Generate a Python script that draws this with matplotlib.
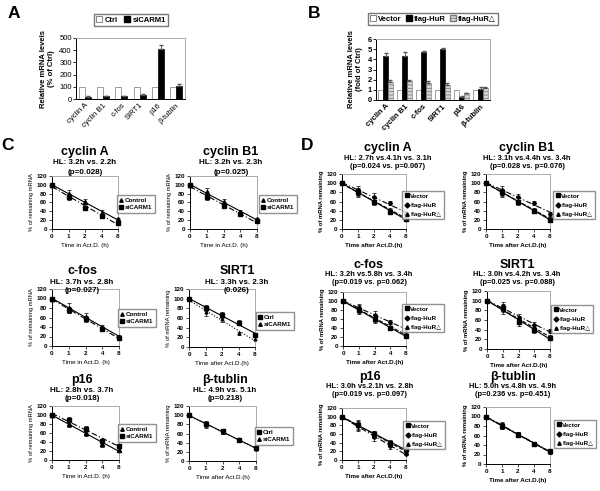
import numpy as np
import matplotlib
matplotlib.use("Agg")
import matplotlib.pyplot as plt
from matplotlib.lines import Line2D
from matplotlib.patches import Patch

plt.rcParams['font.family'] = ['Liberation Sans', 'DejaVu Sans']
plt.rcParams['hatch.color'] = '#555555'
plt.rcParams['hatch.linewidth'] = 0.6

W, H = 600, 491

# ---------------- data ----------------
bar_genes = ['cyclin A', 'cyclin B1', 'c-fos', 'SIRT1', 'p16', 'β-tublin']

# panel A
a_ctrl = [100, 100, 100, 100, 100, 100]
a_si = [18, 25, 25, 35, 410, 110]
a_si_err = [3, 3, 3, 3, 35, 10]

# panel B
b_vector = [1, 1, 1, 1, 1, 1]
b_hur = [4.3, 4.35, 4.7, 5.0, 0.3, 1.1]
b_hur_err = [0.3, 0.35, 0.15, 0.15, 0.05, 0.15]
b_hurd = [1.8, 1.85, 1.7, 1.5, 0.65, 1.15]
b_hurd_err = [0.2, 0.15, 0.15, 0.15, 0.05, 0.1]

time_labels = ['0', '1', '2', '4', '8']

# panel C
c_hl = ['HL: 3.2h vs. 2.2h', 'HL: 3.2h vs. 2.3h', 'HL: 3.7h vs. 2.8h',
        'HL: 3.3h vs. 2.3h', 'HL: 2.8h vs. 3.7h', 'HL: 4.9h vs. 5.1h']
c_p = ['(p=0.028)', '(p=0.025)', '(p=0.027)', '(0.026)', '(p=0.018)', '(p=0.218)']
c_ctrl = [[100, 80, 62, 37, 22], [100, 83, 60, 38, 22], [100, 80, 62, 40, 20],
          [100, 80, 67, 50, 25], [100, 80, 60, 35, 22], [100, 80, 65, 45, 28]]
c_ctrl_err = [[0, 9, 6, 5, 4], [0, 9, 7, 5, 4], [0, 10, 8, 4, 3],
              [0, 6, 6, 5, 3], [0, 6, 6, 6, 3], [0, 7, 5, 4, 3]]
c_si = [[100, 73, 47, 30, 14], [100, 72, 52, 33, 17], [100, 76, 57, 35, 17],
        [100, 72, 57, 28, 17], [100, 90, 70, 42, 32], [100, 80, 63, 47, 27]]
c_si_err = [[0, 7, 5, 4, 3], [0, 7, 5, 4, 3], [0, 7, 6, 4, 3],
            [0, 8, 5, 4, 3], [0, 6, 5, 5, 3], [0, 6, 5, 4, 3]]

# panel D
d_hl = ['HL: 2.7h vs.4.1h vs. 3.1h', 'HL: 3.1h vs.4.4h vs. 3.4h',
        'HL: 3.2h vs.5.8h vs. 3.4h', 'HL: 3.0h vs.4.2h vs. 3.4h',
        'HL: 3.0h vs.2.1h vs. 2.8h', 'HL: 5.0h vs.4.8h vs. 4.9h']
d_p = ['(p=0.024 vs. p=0.067)', '(p=0.028 vs. p=0.076)', '(p=0.019 vs. p=0.062)',
       '(p=0.025 vs. p=0.088)', '(p=0.019 vs. p=0.097)', '(p=0.236 vs. p=0.451)']
d_vector = [[100, 80, 60, 38, 22], [100, 80, 60, 40, 20], [100, 80, 60, 40, 22],
            [100, 85, 55, 40, 22], [100, 80, 60, 40, 25], [100, 80, 62, 42, 27]]
d_hur = [[100, 85, 70, 57, 33], [100, 85, 70, 57, 33], [100, 85, 70, 53, 37],
         [100, 88, 65, 50, 37], [100, 78, 52, 32, 15], [100, 82, 63, 43, 27]]
d_hurd = [[100, 78, 62, 40, 25], [100, 78, 62, 42, 22], [100, 82, 62, 43, 25],
          [100, 82, 60, 45, 25], [100, 82, 58, 37, 22], [100, 80, 62, 42, 26]]
d_err = [[0, 9, 8, 5, 4], [0, 8, 7, 4, 4], [0, 9, 8, 5, 4],
         [0, 9, 8, 6, 4], [0, 10, 8, 6, 4], [0, 7, 5, 4, 3]]


def px_axes(fig, l, t, r, b):
    return fig.add_axes([l / W, 1 - b / H, (r - l) / W, (b - t) / H])


def style_frame(ax):
    for s in ['top', 'right']:
        ax.spines[s].set_color('#aaaaaa')
    for s in ['left', 'bottom']:
        ax.spines[s].set_color('black')
    for s in ax.spines.values():
        s.set_linewidth(0.7)


fig = plt.figure(figsize=(W / 100, H / 100), dpi=100)

# panel letters
for letter, x, y in [('A', 14, 13), ('B', 314, 13), ('C', 8, 146), ('D', 307, 146)]:
    fig.text(x / W, 1 - y / H, letter, fontsize=12.5, fontweight='bold',
             ha='center', va='center')

# ---------------- panel A ----------------
ax = px_axes(fig, 76, 38, 185, 99)
xs = np.arange(len(bar_genes))
bw = 0.33
ax.bar(xs - bw / 2, a_ctrl, bw, color='white', edgecolor='#777777', linewidth=0.5)
ax.bar(xs + bw / 2, a_si, bw, color='black', edgecolor='black', linewidth=0.5,
       yerr=[np.zeros(6), a_si_err], error_kw=dict(ecolor='#555555', elinewidth=0.6, capsize=1.5))
ax.set_xlim(-0.5, 5.5)
ax.set_ylim(0, 500)
ax.set_yticks(range(0, 501, 100))
ax.set_xticks(xs)
ax.set_xticklabels(bar_genes, rotation=45, ha='right', rotation_mode='anchor', fontsize=5.5)
ax.tick_params(axis='y', labelsize=5.5, length=2, width=0.6, pad=1)
ax.tick_params(axis='x', length=0, pad=2)
style_frame(ax)
ax.set_ylabel('Relative mRNA levels\n(% of Ctrl)', fontsize=5.5, fontweight='bold', labelpad=3)
ax.legend(handles=[Patch(facecolor='white', edgecolor='#555555', linewidth=0.5, label='Ctrl'),
                   Patch(facecolor='black', edgecolor='black', label='siCARM1')],
          loc='center', bbox_to_anchor=(131 / W, 1 - 20 / H), bbox_transform=fig.transFigure,
          ncol=2, frameon=True, fancybox=False, edgecolor='#555555',
          handlelength=0.8, handleheight=0.8, handletextpad=0.3, columnspacing=0.8,
          borderpad=0.3, prop=dict(weight='bold', size=5.5))

# ---------------- panel B ----------------
ax = px_axes(fig, 376, 39, 490, 100)
bw = 0.26
ax.bar(xs - bw, b_vector, bw, color='white', edgecolor='#777777', linewidth=0.5)
ax.bar(xs, b_hur, bw, color='black', edgecolor='black', linewidth=0.5,
       yerr=[np.zeros(6), b_hur_err], error_kw=dict(ecolor='#555555', elinewidth=0.6, capsize=1.5))
ax.bar(xs + bw, b_hurd, bw, color='#d8d8d8', edgecolor='#777777', linewidth=0.4, hatch='-----',
       yerr=[np.zeros(6), b_hurd_err], error_kw=dict(ecolor='#555555', elinewidth=0.6, capsize=1.5))
ax.set_xlim(-0.5, 5.5)
ax.set_ylim(0, 6)
ax.set_yticks(range(0, 7))
ax.set_xticks(xs)
ax.set_xticklabels(bar_genes, rotation=45, ha='right', rotation_mode='anchor', fontsize=5.5,
                   fontweight='bold')
ax.tick_params(axis='y', labelsize=5.5, length=2, width=0.6, pad=1)
ax.tick_params(axis='x', length=0, pad=2)
for t in ax.get_yticklabels():
    t.set_fontweight('bold')
style_frame(ax)
ax.set_ylabel('Relative mRNA levels\n(fold of Ctrl)', fontsize=5.5, fontweight='bold', labelpad=3)
ax.legend(handles=[Patch(facecolor='white', edgecolor='#555555', linewidth=0.5, label='Vector'),
                   Patch(facecolor='black', edgecolor='black', label='flag-HuR'),
                   Patch(facecolor='#d8d8d8', edgecolor='#777777', hatch='-----', label='flag-HuR△')],
          loc='center', bbox_to_anchor=(433 / W, 1 - 19 / H), bbox_transform=fig.transFigure,
          ncol=3, frameon=True, fancybox=False, edgecolor='#555555',
          handlelength=0.8, handleheight=0.8, handletextpad=0.3, columnspacing=0.5,
          borderpad=0.3, prop=dict(weight='bold', size=5.5))


# ---------------- decay plots ----------------
def decay(rect, title, title_x, title_ys, hl, pval, series, ylabel, xlabel, leg_center, bold):
    ax = px_axes(fig, *rect)
    xpos = np.arange(len(time_labels))
    handles = []
    for vals, err, marker, ms, ls, label in series:
        ax.errorbar(xpos, vals, yerr=err, fmt=marker, color='black', ms=ms, elinewidth=0.5,
                    capsize=1.2, capthick=0.5, clip_on=False, zorder=3)
        k, b = np.polyfit(xpos, vals, 1)
        ax.plot(xpos, k * xpos + b, color='black', lw=0.8, ls=ls, zorder=2)
        handles.append(Line2D([0], [0], marker=marker, color='black', ls='none', ms=2.5, label=label))
    ax.set_xlim(0, 4)
    ax.set_ylim(0, 120)
    ax.set_xticks(xpos)
    ax.set_xticklabels(time_labels)
    ax.set_yticks(range(0, 121, 20))
    ax.tick_params(labelsize=4.5, length=2, width=0.5, pad=1.5)
    w = 'bold' if bold else 'normal'
    for t in ax.get_xticklabels() + ax.get_yticklabels():
        t.set_fontweight('bold')
    style_frame(ax)
    ax.set_ylabel(ylabel, fontsize=4.2, fontweight=w, labelpad=2)
    ax.set_xlabel(xlabel, fontsize=4.5, fontweight=w, labelpad=3)
    sub = 5.4 if bold else 5.8
    fig.text(title_x / W, 1 - title_ys[0] / H, title, fontsize=9, fontweight='bold',
             ha='center', va='center')
    fig.text(title_x / W, 1 - title_ys[1] / H, hl, fontsize=sub, fontweight='bold',
             ha='center', va='center')
    fig.text(title_x / W, 1 - title_ys[2] / H, pval, fontsize=sub, fontweight='bold',
             ha='center', va='center')
    ax.legend(handles=handles, loc='center', bbox_to_anchor=(leg_center[0] / W, 1 - leg_center[1] / H),
              bbox_transform=fig.transFigure, frameon=True, fancybox=False, edgecolor='#777777',
              handlelength=0.6, handletextpad=0.3, borderpad=0.4, labelspacing=0.6 if bold else 0.3,
              prop=dict(weight='bold', size=4.5))
    return ax


c_rects = [(52, 176, 118, 229), (190, 176, 257, 229),
           (52, 289, 119, 346), (189, 289, 255, 347),
           (52, 406, 119, 460), (189, 406, 256, 461)]
c_title_x = [85, 231, 82, 237, 82, 225]
c_title_y = [(152, 163, 172), (152, 163, 172), (271, 282, 290),
             (271, 282, 290), (380, 390, 398), (380, 390, 398)]
c_leg = [(136, 204), (278, 204), (137, 318), (275, 321), (137, 433), (274, 436)]

for i in range(6):
    alt = i in (3, 5)
    if alt:
        series = [(c_ctrl[i], c_ctrl_err[i], 's', 2.5, '-', 'Ctrl'),
                  (c_si[i], c_si_err[i], '^', 2, ':', 'siCARM1')]
        ylab, xlab = '% of mRNA remaining', 'Time after Act.D.(h)'
    else:
        series = [(c_ctrl[i], c_ctrl_err[i], '^', 3, '-', 'Control'),
                  (c_si[i], c_si_err[i], 's', 3, (0, (5, 2, 1, 2)), 'siCARM1')]
        ylab, xlab = '% of remaining mRNA', 'Time in Act.D. (h)'
    decay(c_rects[i], bar_genes[i], c_title_x[i], c_title_y[i], c_hl[i], c_p[i],
          series, ylab, xlab, c_leg[i], False)

d_rects = [(342, 174, 406, 229), (486, 174, 550, 229),
           (343, 292, 406, 346), (487, 291, 550, 349),
           (342, 408, 406, 460), (486, 407, 550, 464)]
d_title_x = [388, 527, 369, 517, 370, 513]
d_title_y = [(148, 158, 166), (148, 158, 166), (265, 275, 282),
             (265, 275, 282), (377, 387, 394), (377, 387, 394)]
d_leg = [(423, 205), (574, 205), (423, 318), (572, 319), (424, 435), (575, 434)]

for i in range(6):
    series = [(d_vector[i], d_err[i], 's', 2.5, '-', 'Vector'),
              (d_hur[i], d_err[i], 'D', 2, (0, (5, 2, 1, 2)), 'flag-HuR'),
              (d_hurd[i], d_err[i], '^', 2.5, '--', 'flag-HuR△')]
    decay(d_rects[i], bar_genes[i], d_title_x[i], d_title_y[i], d_hl[i], d_p[i],
          series, '% of mRNA remaining', 'Time after Act.D.(h)', d_leg[i], True)

fig.savefig('out.png', dpi=100)
